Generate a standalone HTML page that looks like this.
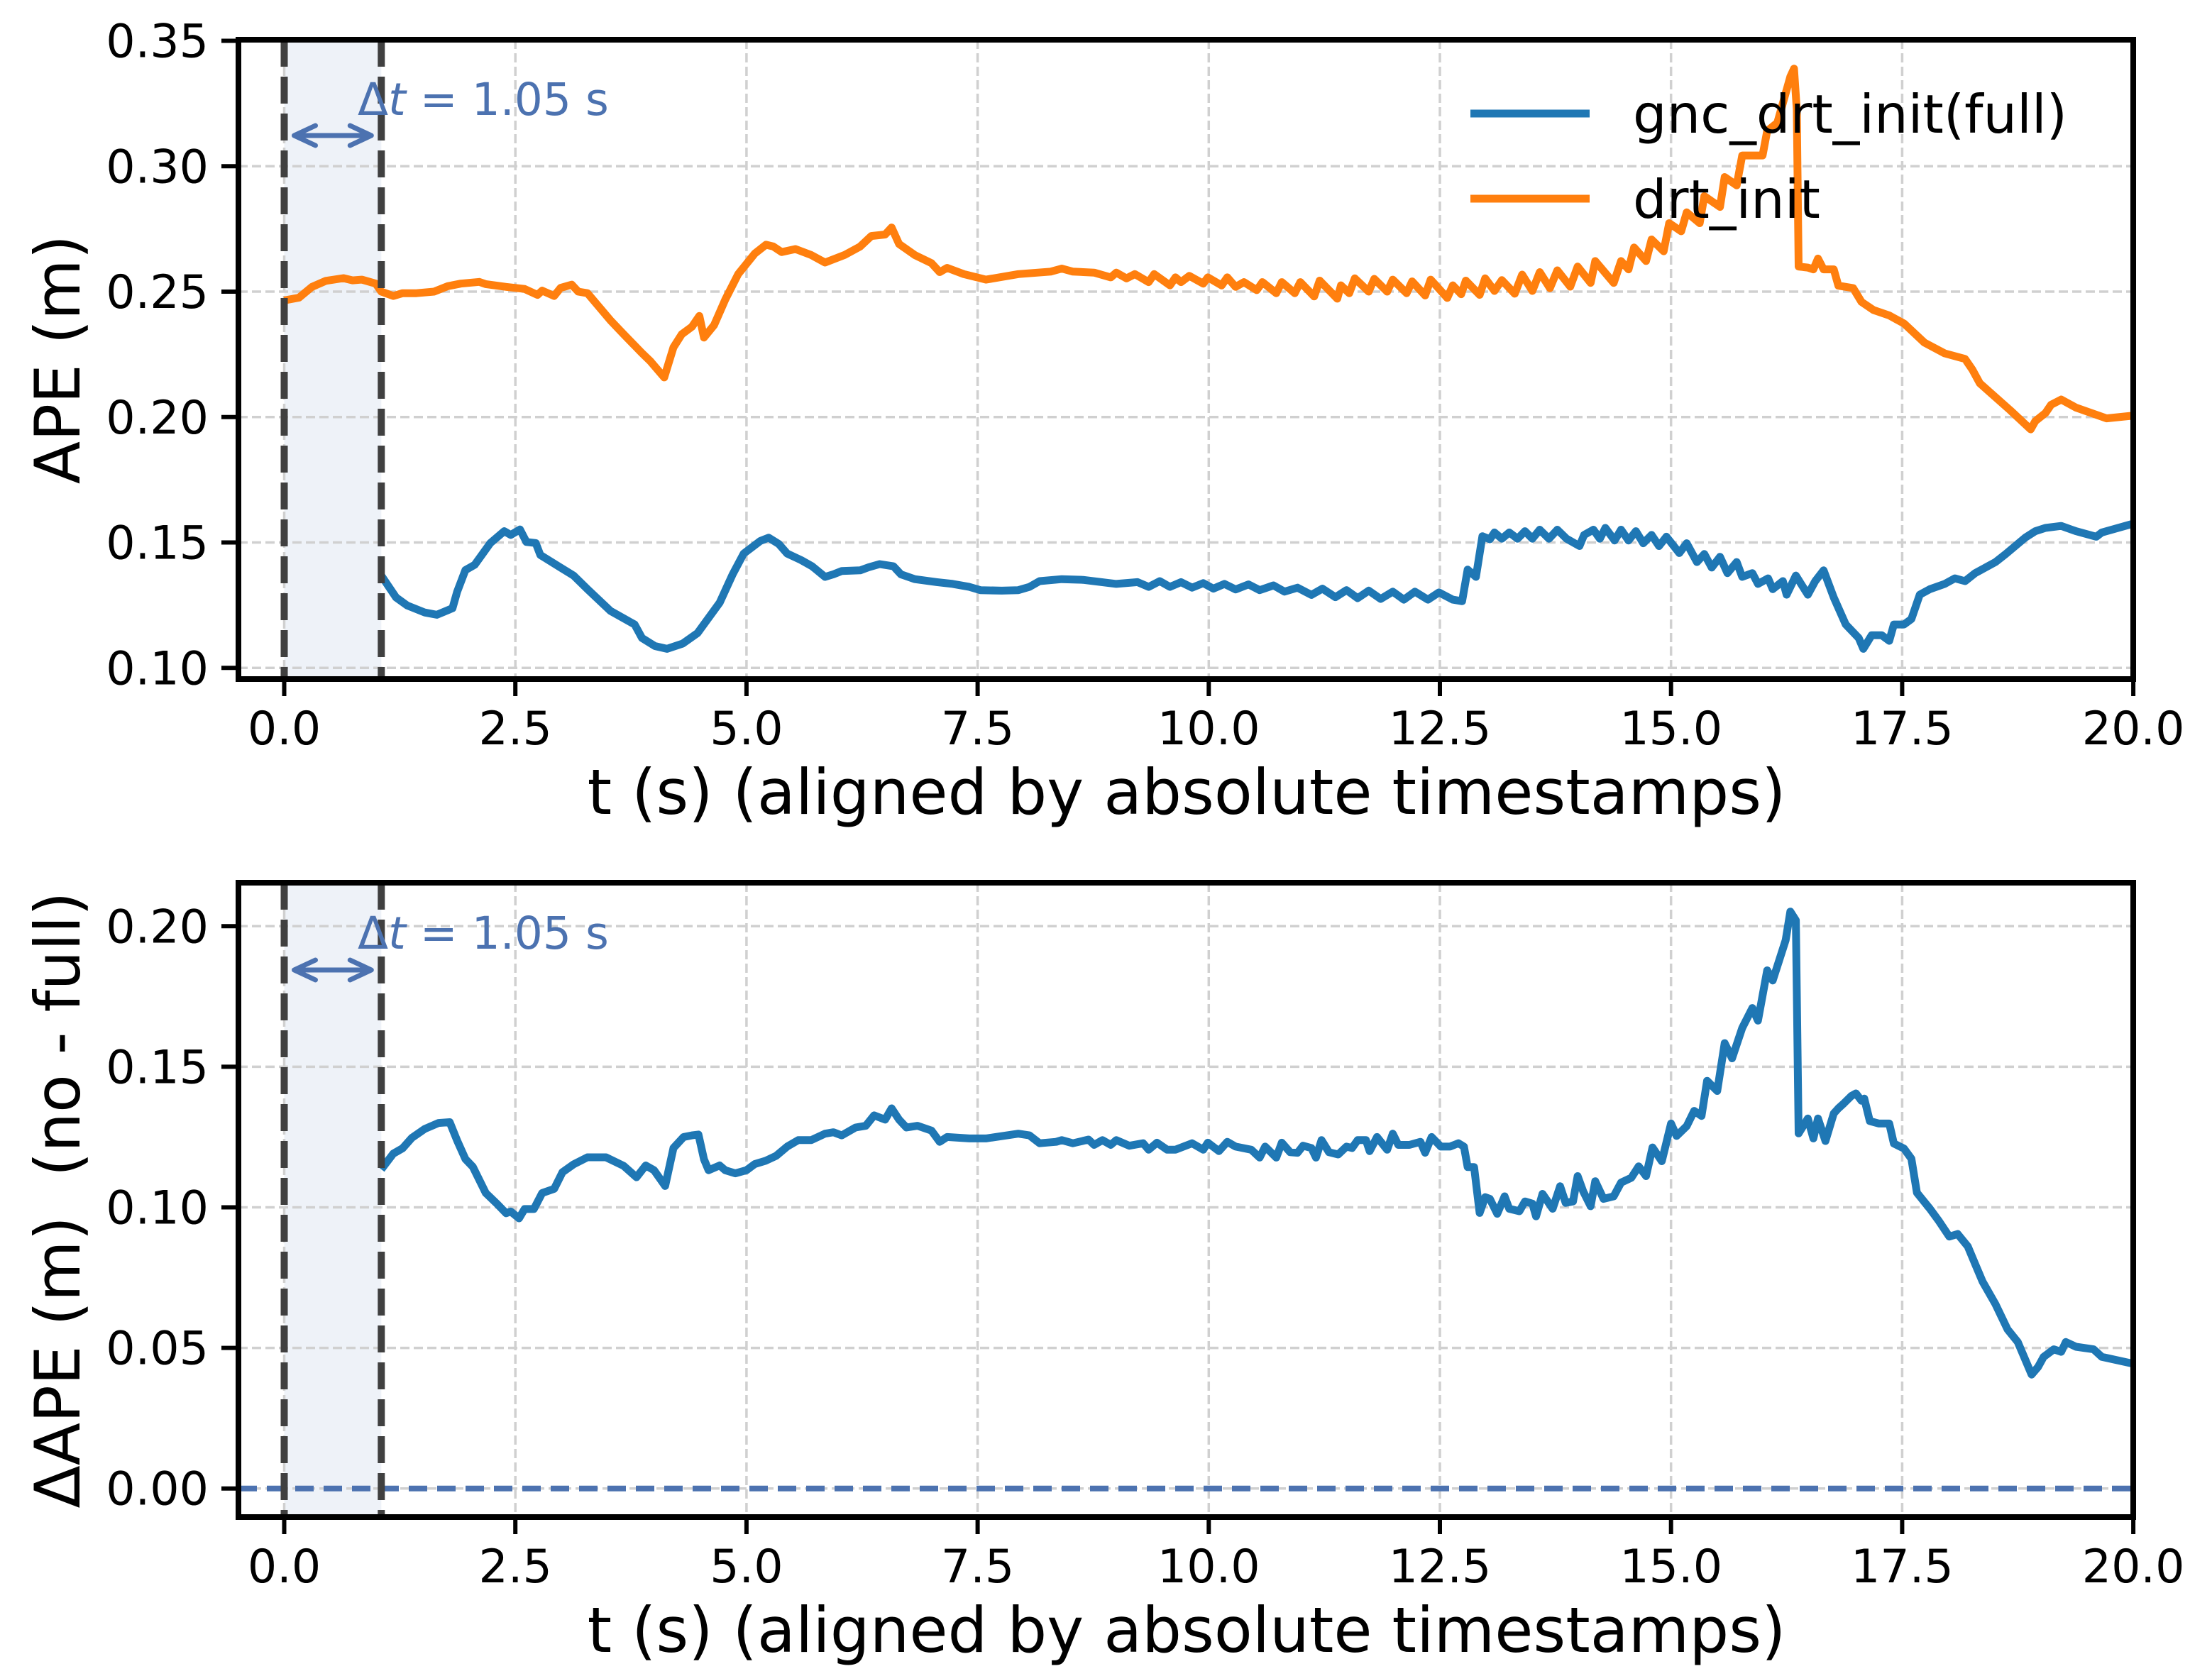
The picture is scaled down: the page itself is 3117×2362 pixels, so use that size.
<!DOCTYPE html>
<html><head><meta charset="utf-8"><style>
html,body{margin:0;padding:0;background:#fff}
svg{display:block}
text{font-family:"DejaVu Sans","Liberation Sans",sans-serif;fill:#000}
</style></head><body>
<svg id="fig" width="3117" height="2362" viewBox="0 0 3117 2362" xmlns="http://www.w3.org/2000/svg">
<rect width="3117" height="2362" fill="#fff"/>
<defs>
<clipPath id="c1"><rect x="336" y="56" width="2670" height="901"/></clipPath>
<clipPath id="c2"><rect x="336" y="1244" width="2670" height="894"/></clipPath>
</defs>
<g id="topPanel"></g>
<g id="botPanel"></g>
</svg>
<script>
const xTicks=[0,2.5,5,7.5,10,12.5,15,17.5,20];
const yTicksTop=[0.10,0.15,0.20,0.25,0.30,0.35];
const yTicksBot=[0.00,0.05,0.10,0.15,0.20];
const deltaT=1.05;
const tOrange=[0,0.16,0.30,0.45,0.64,0.74,0.84,0.99,1.05,1.18,1.28,1.43,1.62,1.77,1.91,2.11,2.18,2.40,2.60,2.74,2.79,2.92,2.99,3.11,3.18,3.28,3.53,3.67,3.87,3.96,4.11,4.21,4.30,4.41,4.49,4.54,4.65,4.77,4.91,5.09,5.21,5.29,5.38,5.53,5.70,5.85,6.06,6.23,6.35,6.50,6.57,6.65,6.82,7.0,7.09,7.17,7.35,7.59,7.94,8.29,8.41,8.53,8.76,8.94,9.00,9.11,9.20,9.35,9.41,9.58,9.64,9.70,9.79,9.94,9.99,10.14,10.20,10.29,10.38,10.52,10.58,10.73,10.79,10.93,10.99,11.14,11.20,11.39,11.43,11.52,11.58,11.73,11.79,11.93,11.99,12.14,12.20,12.34,12.40,12.58,12.64,12.73,12.78,12.93,12.99,13.09,13.17,13.31,13.39,13.50,13.58,13.69,13.77,13.91,13.99,14.13,14.18,14.38,14.46,14.54,14.60,14.73,14.79,14.92,14.98,15.11,15.17,15.31,15.36,15.53,15.58,15.71,15.77,15.99,16.04,16.15,16.29,16.33,16.36,16.38,16.48,16.54,16.59,16.65,16.76,16.81,16.97,17.06,17.19,17.36,17.52,17.74,17.96,18.18,18.26,18.34,18.67,18.89,18.94,19.05,19.11,19.22,19.38,19.71,19.98,20.0];
const vOrange=[0.2465,0.2476,0.2519,0.2543,0.2554,0.2545,0.2548,0.2532,0.25,0.2483,0.2494,0.2494,0.25,0.2522,0.2532,0.2539,0.253,0.2519,0.2511,0.2487,0.2504,0.2483,0.2515,0.2528,0.25,0.2494,0.2385,0.2331,0.2255,0.2223,0.2158,0.2278,0.233,0.236,0.2403,0.2317,0.2367,0.2468,0.257,0.2652,0.2687,0.268,0.2658,0.267,0.2646,0.2616,0.2646,0.268,0.2722,0.2728,0.2756,0.269,0.2646,0.2614,0.2578,0.2595,0.257,0.2548,0.257,0.258,0.2592,0.258,0.2576,0.2557,0.2576,0.2553,0.2570,0.2538,0.2570,0.2525,0.2557,0.2538,0.2563,0.2532,0.2557,0.2525,0.2557,0.2519,0.2538,0.2506,0.2538,0.2494,0.2538,0.2494,0.2538,0.2481,0.2544,0.2472,0.2525,0.2494,0.2553,0.25,0.2551,0.25,0.2548,0.2494,0.2541,0.2485,0.2548,0.2475,0.2525,0.249,0.2544,0.2487,0.2553,0.2503,0.2546,0.2492,0.2568,0.2503,0.2578,0.2514,0.2585,0.2520,0.2600,0.2535,0.2622,0.2535,0.2622,0.2589,0.2676,0.2622,0.2708,0.2661,0.2773,0.2741,0.2816,0.2773,0.2881,0.2838,0.2957,0.2924,0.3043,0.3043,0.3141,0.3173,0.3357,0.3389,0.3227,0.26,0.2596,0.2589,0.2632,0.2589,0.2589,0.2524,0.2514,0.2459,0.2427,0.2405,0.2373,0.2297,0.2254,0.2232,0.2189,0.2135,0.2027,0.1951,0.1984,0.2016,0.2049,0.2070,0.2038,0.1995,0.2005,0.2008];
const tBlue=[1.05,1.21,1.33,1.52,1.65,1.82,1.87,1.96,2.06,2.23,2.38,2.45,2.55,2.62,2.72,2.77,2.99,3.13,3.28,3.53,3.79,3.87,4.01,4.14,4.31,4.47,4.71,4.85,4.97,5.15,5.24,5.35,5.44,5.59,5.71,5.85,5.94,6.03,6.23,6.32,6.44,6.59,6.67,6.82,7.06,7.23,7.41,7.53,7.76,7.94,8.06,8.17,8.41,8.64,9.00,9.23,9.35,9.47,9.58,9.70,9.82,9.94,10.05,10.17,10.29,10.43,10.55,10.70,10.82,10.96,11.11,11.23,11.37,11.49,11.61,11.73,11.86,11.99,12.11,12.23,12.37,12.49,12.64,12.74,12.80,12.89,12.96,13.04,13.09,13.17,13.25,13.34,13.42,13.50,13.58,13.68,13.77,13.87,14.01,14.06,14.16,14.23,14.29,14.39,14.46,14.54,14.62,14.70,14.79,14.87,14.95,15.09,15.17,15.28,15.36,15.44,15.53,15.61,15.71,15.77,15.88,15.94,16.05,16.10,16.21,16.25,16.35,16.48,16.56,16.65,16.76,16.89,17.03,17.08,17.17,17.28,17.36,17.41,17.52,17.60,17.69,17.80,17.96,18.07,18.18,18.29,18.51,18.62,18.83,18.94,19.05,19.22,19.38,19.60,19.66,19.98,20.0];
const vBlue=[0.1368,0.1281,0.1249,0.1221,0.1212,0.1238,0.1303,0.139,0.1411,0.1498,0.1545,0.153,0.1552,0.1502,0.1498,0.145,0.14,0.1368,0.1314,0.1227,0.1173,0.1119,0.1087,0.1076,0.1097,0.1139,0.126,0.1373,0.1456,0.1506,0.1519,0.1494,0.1456,0.143,0.1405,0.1363,0.1373,0.1386,0.1389,0.1401,0.1414,0.1405,0.1373,0.1354,0.1342,0.1335,0.1323,0.131,0.1308,0.131,0.1323,0.1346,0.1354,0.1351,0.1335,0.1342,0.1323,0.1346,0.1323,0.1342,0.1320,0.1338,0.1316,0.1335,0.1313,0.1333,0.1310,0.1329,0.1304,0.1320,0.1291,0.1316,0.1282,0.131,0.1278,0.1308,0.1275,0.1304,0.1272,0.1304,0.1272,0.1301,0.1272,0.1266,0.1392,0.1363,0.1525,0.1513,0.154,0.1515,0.154,0.1515,0.1545,0.1515,0.1551,0.1515,0.1551,0.1515,0.1486,0.153,0.1551,0.1515,0.1558,0.1508,0.1551,0.1508,0.1545,0.1497,0.153,0.1486,0.1523,0.1458,0.1497,0.1422,0.1454,0.14,0.1443,0.1378,0.1422,0.1363,0.1378,0.1335,0.1357,0.1314,0.1346,0.1292,0.1368,0.1292,0.1346,0.1389,0.1281,0.1173,0.1119,0.1076,0.113,0.113,0.1108,0.1173,0.1173,0.1195,0.1292,0.1314,0.1335,0.1357,0.1346,0.1378,0.1422,0.1454,0.1519,0.1545,0.1558,0.1566,0.1545,0.1523,0.154,0.1573,0.1575];
const tDelta=[1.05,1.18,1.28,1.38,1.52,1.67,1.79,1.87,1.96,2.04,2.18,2.30,2.40,2.45,2.54,2.60,2.70,2.79,2.92,3.01,3.13,3.28,3.48,3.67,3.81,3.91,4.00,4.12,4.21,4.32,4.41,4.48,4.54,4.59,4.71,4.77,4.88,5.00,5.09,5.21,5.32,5.44,5.56,5.70,5.85,5.94,6.03,6.18,6.29,6.38,6.50,6.57,6.65,6.73,6.85,7.00,7.09,7.17,7.41,7.59,7.94,8.06,8.17,8.35,8.41,8.53,8.70,8.76,8.85,8.94,9.00,9.14,9.29,9.35,9.44,9.55,9.64,9.82,9.94,9.99,10.11,10.20,10.29,10.46,10.55,10.61,10.73,10.79,10.88,10.96,11.02,11.11,11.16,11.22,11.30,11.40,11.49,11.55,11.61,11.70,11.74,11.82,11.93,11.99,12.05,12.17,12.29,12.34,12.41,12.51,12.61,12.70,12.76,12.80,12.87,12.93,12.99,13.04,13.12,13.20,13.25,13.36,13.42,13.50,13.54,13.61,13.72,13.80,13.86,13.94,13.99,14.05,14.13,14.18,14.27,14.38,14.46,14.57,14.65,14.73,14.80,14.90,15.00,15.06,15.17,15.25,15.33,15.39,15.50,15.58,15.66,15.77,15.88,15.94,16.04,16.10,16.24,16.29,16.35,16.38,16.48,16.54,16.59,16.67,16.76,16.81,16.87,16.95,17.00,17.06,17.09,17.15,17.25,17.36,17.41,17.52,17.60,17.66,17.80,17.90,18.01,18.10,18.21,18.29,18.37,18.51,18.64,18.75,18.90,18.97,19.03,19.14,19.22,19.27,19.38,19.57,19.66,19.98,20.0];
const vDelta=[0.1135,0.1191,0.121,0.1247,0.1279,0.13,0.1303,0.1238,0.1172,0.1144,0.1051,0.1013,0.0979,0.0985,0.0961,0.0994,0.0994,0.1051,0.1066,0.1125,0.1153,0.1178,0.1178,0.1148,0.1107,0.1149,0.1132,0.1076,0.1211,0.125,0.1256,0.1259,0.1171,0.1132,0.1149,0.1132,0.1121,0.1132,0.1154,0.1166,0.1183,0.1216,0.1239,0.1239,0.1262,0.1267,0.1256,0.1284,0.129,0.1327,0.1312,0.1352,0.1312,0.1284,0.129,0.1273,0.1233,0.125,0.1245,0.1245,0.1262,0.1256,0.1228,0.1233,0.1239,0.1228,0.1241,0.1222,0.1239,0.1222,0.1239,0.1219,0.1228,0.1205,0.123,0.1205,0.1205,0.1228,0.1205,0.123,0.12,0.1233,0.1216,0.1205,0.1177,0.1216,0.1177,0.123,0.1196,0.1194,0.1219,0.1211,0.1177,0.1239,0.1196,0.1188,0.1216,0.1211,0.1239,0.1239,0.12,0.125,0.1205,0.1262,0.1222,0.1222,0.1233,0.1194,0.125,0.1216,0.1216,0.1228,0.1216,0.1143,0.1143,0.098,0.1036,0.103,0.0977,0.1039,0.0995,0.0986,0.1021,0.1013,0.0968,0.1048,0.0995,0.1075,0.1016,0.1021,0.1111,0.1057,0.1004,0.1093,0.103,0.1039,0.1088,0.1105,0.1146,0.1111,0.1213,0.1164,0.1298,0.1254,0.1289,0.1343,0.1325,0.145,0.1414,0.1584,0.153,0.1638,0.1709,0.1664,0.1843,0.1807,0.195,0.2052,0.2021,0.1263,0.1316,0.1245,0.1316,0.1236,0.1334,0.1352,0.137,0.1396,0.1405,0.1379,0.1387,0.1307,0.1298,0.1298,0.1227,0.1209,0.1173,0.1052,0.0995,0.095,0.0896,0.0905,0.0861,0.0798,0.0736,0.0655,0.0566,0.0521,0.0405,0.0432,0.0468,0.0495,0.0486,0.0521,0.0504,0.0495,0.0468,0.0445,0.0443];

const NS="http://www.w3.org/2000/svg";
const L=336,R=3006;
const xs=t=>400.5+130.28*t;
const P1={top:56,bot:957,y:v=>941.3-(v-0.10)*3535,clip:"c1",first:true};
const P2={top:1244,bot:2138,y:v=>2097.7-v*3962,clip:"c2",first:false};
function mk(parent,tag,attrs,txt){const e=document.createElementNS(NS,tag);for(const k in attrs)e.setAttribute(k,attrs[k]);if(txt!==undefined)e.textContent=txt;parent.appendChild(e);return e;}
function pathD(ts,vs,Y){return ts.map((t,i)=>(i?'L':'M')+xs(t).toFixed(1)+' '+Y(vs[i]).toFixed(1)).join(' ');}

function panel(g,P,yTicks,ylabel,series,zeroLine){
  const sh=mk(g,'rect',{x:xs(0),y:P.top,width:xs(deltaT)-xs(0),height:P.bot-P.top,fill:'#eef2f8'});
  
  
  const gg=mk(g,'g',{stroke:'#d0d0d0','stroke-width':3.5,'stroke-dasharray':'13 6'});
  
  
  xTicks.forEach(t=>mk(gg,'line',{x1:xs(t),x2:xs(t),y1:P.top,y2:P.bot}));
  yTicks.forEach(v=>mk(gg,'line',{x1:L,x2:R,y1:P.y(v),y2:P.y(v)}));
  if(zeroLine){const z=mk(g,'line',{x1:L,x2:R,y1:P.y(0),y2:P.y(0),stroke:'#4c72b0','stroke-width':8,'stroke-dasharray':'26 14'});
    
    }
  series.forEach(s=>{const p=mk(g,'path',{d:pathD(s.t,s.v,P.y),fill:'none',stroke:s.c,'stroke-width':11,'stroke-linejoin':'round','clip-path':'url(#'+P.clip+')'});
    
    });
  [0,deltaT].forEach((t,i)=>{const l=mk(g,'line',{x1:xs(t),x2:xs(t),y1:P.top,y2:P.bot,stroke:'#404040','stroke-width':10,'stroke-dasharray':'38 14'});
    
    });
  const ay=P.first?191:1367;
  const ag=mk(g,'g',{stroke:'#4c72b0','stroke-width':7,fill:'none','stroke-linecap':'round','stroke-linejoin':'round'});
  
  
  const ax1=xs(0)+14,ax2=xs(deltaT)-14;
  mk(ag,'line',{x1:ax1+4,x2:ax2-4,y1:ay,y2:ay});
  mk(ag,'path',{d:`M${ax1+30} ${ay-14} L${ax1} ${ay} L${ax1+30} ${ay+14}`});
  mk(ag,'path',{d:`M${ax2-30} ${ay-14} L${ax2} ${ay} L${ax2-30} ${ay+14}`});
  const tt=mk(g,'text',{x:504,y:P.first?162:1337,'font-size':63,style:'fill:#4c72b0'});
  
  
  mk(tt,'tspan',{},'Δ');
  mk(tt,'tspan',{'font-style':'italic'},'t');
  mk(tt,'tspan',{},' = 1.05 s');
  const sp=mk(g,'rect',{x:L,y:P.top,width:R-L,height:P.bot-P.top,fill:'none',stroke:'#000','stroke-width':8});
  
  
  const tk=mk(g,'g',{stroke:'#000','stroke-width':6});
  xTicks.forEach(t=>mk(tk,'line',{x1:xs(t),x2:xs(t),y1:P.bot,y2:P.bot+24}));
  yTicks.forEach(v=>mk(tk,'line',{x1:L,x2:L-24,y1:P.y(v),y2:P.y(v)}));
  xTicks.forEach(t=>{const e=mk(g,'text',{x:xs(t),y:P.bot+92,'font-size':65,'text-anchor':'middle'},t.toFixed(1));
    
    });
  yTicks.forEach(v=>{const e=mk(g,'text',{x:294,y:P.y(v)+23,'font-size':65,'text-anchor':'end'},v.toFixed(2));
    
    });
  const xl=mk(g,'text',{x:1672,y:P.bot+190,'font-size':88,'text-anchor':'middle'},'t (s) (aligned by absolute timestamps)');
  
  
  const cy=(P.top+P.bot)/2;
  const yl=mk(g,'text',{x:0,y:0,'font-size':88,'text-anchor':'middle',transform:`translate(112,${cy}) rotate(-90)`,style:'white-space:pre'},ylabel);
  
  
}
const topG=document.getElementById('topPanel'),botG=document.getElementById('botPanel');
panel(topG,P1,yTicksTop,'APE (m)',[{t:tBlue,v:vBlue,c:'#1f77b4',name:'gnc-full-line'},{t:tOrange,v:vOrange,c:'#ff7f0e',name:'drt-init-line'}],false);
panel(botG,P2,yTicksBot,'ΔAPE (m)\u00a0\u00a0(no - full)',[{t:tDelta,v:vDelta,c:'#1f77b4',name:'delta-ape-line'}],true);
const lg=mk(topG,'g',{});


[['gnc_drt_init(full)','#1f77b4',160],['drt_init','#ff7f0e',280]].forEach(([lab,c,y])=>{
  const ln=mk(lg,'line',{x1:2072,x2:2240,y1:y,y2:y,stroke:c,'stroke-width':11});
  
  
  const tx=mk(lg,'text',{x:2301,y:y+27,'font-size':75},lab);
  
  
});
</script>
</body></html>
